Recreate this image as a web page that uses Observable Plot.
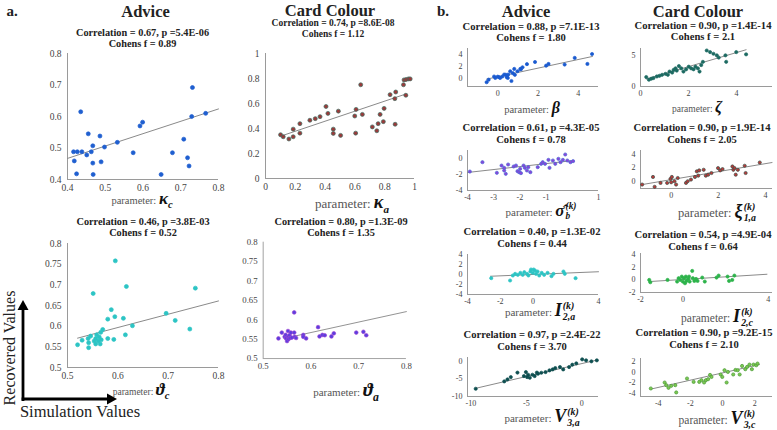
<!DOCTYPE html>
<html>
<head>
<meta charset="utf-8">
<script src="https://cdn.jsdelivr.net/npm/d3@7"></script>
<script src="https://cdn.jsdelivr.net/npm/@observablehq/plot@0.6"></script>
<style>
  body { margin: 0; background: #fff; }
  #root { position: relative; width: 777px; height: 430px; overflow: hidden; background: #fff; font-family: "Liberation Serif", "DejaVu Serif", serif; color: #222; }
  .t { position: absolute; white-space: nowrap; transform: translate(-50%, -50%); line-height: 1; }
  .pw { color: #555; }
  .sym { font-weight: bold; font-style: italic; color: #111; }
  .ss { display: inline-flex; flex-direction: column; vertical-align: middle; font-size: 0.55em; line-height: 1.05; margin-left: 1px; }
  .pan { position: absolute; }
</style>
</head>
<body>
<div id="root"></div>
<script>
// ---------------- DATA ----------------
const adviceKappaC = [[0.416,0.488],[0.418,0.459],[0.426,0.488],[0.424,0.418],[0.438,0.488],[0.435,0.615],[0.455,0.545],[0.451,0.478],[0.463,0.488],[0.467,0.507],[0.467,0.452],[0.468,0.416],[0.486,0.538],[0.489,0.456],[0.498,0.503],[0.532,0.518],[0.574,0.485],[0.592,0.570],[0.599,0.582],[0.648,0.416],[0.678,0.485],[0.708,0.528],[0.718,0.469],[0.722,0.443],[0.731,0.692],[0.729,0.600],[0.766,0.610]];
const cardKappaA = [[0.101,0.35],[0.119,0.334],[0.157,0.316],[0.186,0.395],[0.186,0.334],[0.231,0.439],[0.231,0.363],[0.298,0.466],[0.334,0.479],[0.366,0.495],[0.406,0.576],[0.419,0.521],[0.455,0.395],[0.455,0.361],[0.489,0.539],[0.504,0.345],[0.599,0.5],[0.608,0.553],[0.605,0.363],[0.639,0.75],[0.65,0.513],[0.717,0.413],[0.747,0.382],[0.756,0.439],[0.769,0.513],[0.791,0.455],[0.796,0.561],[0.836,0.671],[0.868,0.639],[0.874,0.692],[0.87,0.434],[0.926,0.75],[0.93,0.789],[0.942,0.666],[0.944,0.792],[0.96,0.797],[0.971,0.797]];
const adviceThetaC = [[0.52,0.555],[0.529,0.566],[0.541,0.57],[0.542,0.56],[0.542,0.548],[0.546,0.576],[0.551,0.679],[0.553,0.564],[0.556,0.57],[0.558,0.579],[0.556,0.557],[0.561,0.564],[0.563,0.574],[0.565,0.557],[0.566,0.585],[0.57,0.592],[0.567,0.567],[0.58,0.617],[0.58,0.57],[0.587,0.64],[0.592,0.568],[0.594,0.623],[0.595,0.758],[0.611,0.619],[0.615,0.579],[0.617,0.696],[0.629,0.601],[0.696,0.631],[0.714,0.614],[0.743,0.593],[0.754,0.692]];
const cardThetaA = [[0.532,0.552],[0.539,0.567],[0.545,0.556],[0.547,0.561],[0.548,0.552],[0.55,0.545],[0.552,0.556],[0.552,0.571],[0.553,0.55],[0.555,0.56],[0.556,0.553],[0.558,0.567],[0.56,0.554],[0.565,0.567],[0.565,0.619],[0.566,0.556],[0.569,0.553],[0.584,0.561],[0.584,0.556],[0.59,0.552],[0.615,0.581],[0.618,0.557],[0.624,0.561],[0.629,0.56],[0.643,0.557],[0.648,0.565],[0.695,0.567],[0.71,0.569],[0.716,0.56]];
const adviceBeta = [[-0.55,-0.6],[-0.45,-0.18],[-0.18,0.33],[-0.12,0.1],[0.0,0.3],[0.07,0.22],[0.12,0.1],[0.23,0.33],[0.32,0.65],[0.4,0.62],[0.45,0.22],[0.5,0.1],[0.52,0.65],[0.62,1.19],[0.68,-0.4],[0.75,0.87],[0.82,1.57],[0.85,0.6],[0.98,1.19],[1.12,1.57],[1.15,1.5],[1.23,1.84],[1.45,2.35],[1.85,2.7],[2.4,2.1],[2.52,2.38],[3.32,2.28],[3.82,3.37],[4.45,2.38],[4.68,4.0]];
const adviceSigmaB = [[-3.91,-1.63],[-3.43,-0.46],[-2.88,-1.79],[-2.7,-0.88],[-2.6,-1.5],[-2.54,-1.92],[-2.6,-1.17],[-2.45,-0.75],[-2.24,-1.0],[-2.15,-0.88],[-2.09,-1.58],[-2.03,-1.71],[-1.99,-1.29],[-1.96,-1.83],[-1.86,-0.88],[-1.81,-1.17],[-1.73,-1.5],[-1.68,-1.08],[-1.6,-1.71],[-1.32,-1.08],[-1.19,-0.67],[-1.13,-0.46],[-1.04,-0.67],[-0.91,-0.17],[-0.87,-1.17],[-0.74,-0.25],[-0.65,-0.67],[-0.53,-0.04],[-0.45,-0.46],[-0.36,-0.17],[-0.27,0.5],[-0.19,-0.25],[-0.07,-0.46],[0.03,-0.33]];
const adviceI2a = [[-2.55,-0.73],[-1.4,-1.2],[-1.23,-0.2],[-1.09,0.13],[-0.93,-0.07],[-0.77,0.33],[-0.63,-0.07],[-0.53,0.47],[-0.36,0.13],[-0.28,-0.2],[-0.16,0.6],[-0.12,1.0],[-0.02,0.33],[0.04,1.0],[0.12,0.8],[0.18,0.13],[0.28,0.6],[0.38,-0.2],[0.53,0.33],[0.68,-0.07],[0.89,0.33],[1.13,-0.33],[1.25,0.13],[1.86,0.6],[1.94,0.13],[2.6,-0.73]];
const adviceV3a = [[-9.56,-7.8],[-6.99,-5.7],[-6.7,-5.14],[-6.4,-4.48],[-5.8,-3.2],[-5.22,-4.19],[-5.04,-3.05],[-4.93,-4.48],[-4.84,-3.81],[-4.69,-4.67],[-4.45,-3.81],[-4.25,-4.19],[-4.05,-3.2],[-3.95,-3.52],[-3.65,-3.24],[-3.27,-3.05],[-2.92,-2.57],[-2.63,-2.29],[-2.39,-1.9],[-1.97,-1.62],[-1.68,-2.29],[-1.15,-1.62],[-0.86,-0.95],[-0.5,-0.57],[0.03,0.57],[0.38,0.29],[0.86,0.0],[1.35,0.29]];
const cardZeta = [[0.24,1.52],[0.35,1.09],[0.45,1.25],[0.54,1.36],[0.68,1.61],[0.79,1.72],[0.9,1.88],[1.04,2.03],[1.14,1.88],[1.21,2.4],[1.32,2.24],[1.38,2.66],[1.46,2.92],[1.51,2.55],[1.6,3.28],[1.7,2.92],[1.79,2.4],[1.9,2.76],[2.01,3.18],[2.11,2.92],[2.21,2.76],[2.29,3.18],[2.39,2.92],[2.46,2.4],[2.53,3.44],[2.6,3.96],[2.76,5.78],[2.9,5.52],[3.04,5.26],[3.18,5.0],[3.26,4.64],[3.54,5.0],[3.57,3.96],[3.99,5.52],[4.4,5.16]];
const cardXi1a = [[-1.23,-0.43],[-0.77,0.67],[-0.7,-0.76],[-0.45,-0.19],[-0.17,-0.19],[-0.03,0.38],[0,-0.1],[0.03,0.67],[0.14,0.05],[0.21,-0.43],[0.28,0.52],[0.63,-0.19],[0.7,0.05],[0.84,0.29],[1.01,0.67],[1.09,1.48],[1.15,0.86],[1.19,1.62],[1.38,1.71],[1.47,0.86],[1.57,1.0],[1.71,1.24],[1.99,1.95],[2.08,1.62],[2.18,1.81],[2.6,2.19],[2.64,1.71],[2.69,1.95],[2.74,1.0],[2.83,1.71],[3.12,2.29],[3.16,1.24],[3.76,2.76]];
const cardI2c = [[-1.59,0],[-1.54,-0.37],[-0.73,0],[-0.28,-0.26],[-0.21,0.27],[-0.13,0],[-0.06,0.53],[-0.01,-0.26],[0.04,0.27],[0.09,-0.53],[0.13,0.53],[0.16,-0.16],[0.24,0.16],[0.28,0.53],[0.31,-0.26],[0.43,1.43],[0.46,0.27],[0.53,-0.16],[0.61,0.16],[0.68,-0.16],[0.9,0.37],[1.02,-0.26],[1.57,0.37],[1.67,0.69],[2.09,0.53],[2.16,-0.16],[2.31,0],[2.41,0.69]];
const cardV3c = [[-4.46,-3.08],[-3.6,-1.95],[-3.5,-2.45],[-3.36,-2.96],[-3.19,-2.58],[-2.94,-2.45],[-2.88,-3.83],[-2.21,-1.19],[-1.8,-1.83],[-1.45,-1.83],[-1.31,-1.51],[-1.15,-1.95],[-1.04,-1.51],[-0.9,-1.32],[-0.78,-0.51],[-0.69,-0.89],[-0.12,-0.43],[-0.02,-0.89],[0.12,0.38],[0.25,-1.95],[0.33,0.06],[0.66,-0.43],[0.8,0.43],[0.94,0.38],[1.06,-0.43],[1.21,1.19],[1.41,0.57],[1.52,1.0],[1.67,1.45],[1.82,0.57],[1.92,1.45],[2.09,1.32],[2.17,1.64]];

// least-squares lines (endpoints in data units)
const fitLines = [
  [[0.4,0.467],[0.8,0.624]],
  [[0.1,0.338],[0.94,0.675]],
  [[0.52,0.571],[0.8,0.661]],
  [[0.548,0.553],[0.8,0.621]],
  [[-0.55,-0.1],[4.7,3.6]],
  [[-4,-1.75],[0.05,-0.25]],
  [[-2.6,-0.35],[4,0.55]],
  [[-9.6,-7.7],[1.4,0.4]],
  [[0.24,1.2],[4.4,5.9]],
  [[-1.23,-0.43],[4.28,2.76]],
  [[-1.59,-0.26],[3.94,0.9]],
  [[-4.46,-3.2],[2.29,1.45]]
];

const correlationTitles = [
  "Correlation = 0.67, p =5.4E-06", "Correlation = 0.74, p =8.6E-08",
  "Correlation = 0.46, p =3.8E-03", "Correlation = 0.80, p =1.3E-09",
  "Correlation = 0.88, p =7.1E-13", "Correlation = 0.61, p =4.3E-05",
  "Correlation = 0.40, p =1.3E-02", "Correlation = 0.97, p =2.4E-22",
  "Correlation = 0.90, p =1.4E-14", "Correlation = 0.90, p =1.9E-14",
  "Correlation = 0.54, p =4.9E-04", "Correlation = 0.90, p =9.2E-15"
];
const cohensTitles = [
  "Cohens f = 0.89", "Cohens f = 1.12", "Cohens f = 0.52", "Cohens f = 1.35",
  "Cohens f = 1.80", "Cohens f = 0.78", "Cohens f = 0.44", "Cohens f = 3.70",
  "Cohens f = 2.1", "Cohens f = 2.05", "Cohens f = 0.64", "Cohens f = 2.10"
];
// parameter symbols: [symbol, subscript, superscript]
const paramSymbols = [
  ["κ","c",""], ["κ","a",""], ["ϑ","c",""], ["ϑ","a",""],
  ["β","",""], ["σ\u0302","b","(k)"], ["I","2,a","(k)"], ["V","3,a","(k)"],
  ["ζ","",""], ["ξ","1,a","(k)"], ["I","2,c","(k)"], ["V","3,c","(k)"]
];
const xDomains = [[0.4,0.8],[0,1],[0.5,0.8],[0.5,0.8],[-1.5,5],[-4,1],[-4,4],[-10.3,1.5],[0,5.5],[-1.3,4.3],[-2,4.2],[-5.1,3.1]];
const yDomains = [[0.4,0.8],[0,1],[0.5,0.8],[0.5,0.8],[-1.3,4.9],[-4,1],[-4,4],[-10,1.1],[0,6.1],[-1,4.5],[-2,4.2],[-4.6,2.6]];
const xTickValues = [[0.4,0.5,0.6,0.7,0.8],[0,0.2,0.4,0.6,0.8,1],[0.5,0.6,0.7,0.8],[0.5,0.6,0.7,0.8],[0,2,4],[-4,-3,-2,-1,1],[-4,-2,0,4],[-10,-5,0],[0,2,4],[0,2,4],[-2,0,4],[-4,-2,0,2]];
const yTickValues = [[0.4,0.5,0.6,0.7,0.8],[0,0.2,0.4,0.6,0.8,1],[0.5,0.55,0.6,0.65,0.7,0.75,0.8],[0.5,0.55,0.6,0.65,0.7,0.75,0.8],[0,2,4],[-4,-2,0],[-4,-2,0,2,4],[-10,-5,0],[0,5],[0,2,4],[-2,0,2,4],[-4,-2,0,2]];
const headers = ["a.", "Advice", "Card Colour", "b.", "Advice", "Card Colour"];
const axisWords = ["Recovered Values", "Simulation Values"];

const seriesList = [adviceKappaC, cardKappaA, adviceThetaC, cardThetaA, adviceBeta, adviceSigmaB, adviceI2a, adviceV3a, cardZeta, cardXi1a, cardI2c, cardV3c];

// ---------------- LAYOUT / STYLE ----------------
// frame: [left, top, right, bottom] page px
const panelStyle = [
  {frame:[67,53,218,179], fill:"#1f5fd0", stroke:"#1f5fd0", r:2, tickFs:9.5, tx:142.5, ty:[33,43.5], tfs:10.3, lx:142, ly:200, pfs:10.5, sfs:17},
  {frame:[265,53,414,178], fill:"#9a3a3a", stroke:"#3f6f63", r:2, tickFs:9.5, tx:333, ty:[24,35], tfs:9.5, lx:352, ly:204, pfs:13, sfs:18},
  {frame:[67,243,218,367], fill:"#2cc4c4", stroke:"#2cc4c4", r:2, tickFs:9.5, tx:143, ty:[222,233], tfs:10.3, lx:141, ly:391, pfs:9.5, sfs:17},
  {frame:[265,242,420,368], fill:"#5a3fe0", stroke:"#a043d0", r:2, tickFs:9.5, tx:341, ty:[222,233], tfs:10.3, lx:346, ly:392, pfs:11, sfs:19, clip:417},
  {frame:[467,48,598,86], fill:"#1a5ad0", stroke:"#1a5ad0", r:1.6, tickFs:8, tx:531, ty:[27,38], tfs:10.6, lx:532, ly:108, pfs:10.5, sfs:16},
  {frame:[467,150,598,190], fill:"#8a45d8", stroke:"#4a6ad8", r:1.6, tickFs:8, tx:531, ty:[128,140], tfs:10.6, lx:541, ly:212, pfs:11, sfs:17},
  {frame:[467,254,598,294], fill:"#2cc4c4", stroke:"#2cc4c4", r:1.6, tickFs:8, tx:532, ty:[232,244], tfs:10.6, lx:540, ly:312, pfs:11, sfs:18},
  {frame:[467,357,598,396], fill:"#0e4f50", stroke:"#0e4f50", r:1.6, tickFs:8, tx:532, ty:[335,347], tfs:10.6, lx:542, ly:418, pfs:11, sfs:18},
  {frame:[640,48,772,86], fill:"#1c6a62", stroke:"#1c6a62", r:1.6, tickFs:8, tx:703, ty:[26,37], tfs:10.6, lx:697, ly:107, pfs:9.5, sfs:16},
  {frame:[640,150,772,188], fill:"#b83a3a", stroke:"#3a5048", r:1.6, tickFs:8, tx:702, ty:[128,140], tfs:10.6, lx:717, ly:213, pfs:12.5, sfs:18},
  {frame:[640,253,772,292], fill:"#2db34a", stroke:"#2db34a", r:1.6, tickFs:8, tx:703, ty:[235,247], tfs:10.6, lx:717, ly:318, pfs:11.5, sfs:18},
  {frame:[640,358,772,396], fill:"#7cc850", stroke:"#4a9a3a", r:1.6, tickFs:8, tx:704, ty:[333,345], tfs:10.6, lx:717, ly:420, pfs:11.5, sfs:18}
];

const root = document.getElementById("root");
function addText(html, x, y, css) {
  const d = document.createElement("div");
  d.className = "t";
  d.innerHTML = html;
  d.style.left = x + "px";
  d.style.top = y + "px";
  Object.assign(d.style, css || {});
  root.appendChild(d);
  return d;
}

// headers
addText(headers[0], 12, 11, {fontWeight:"bold", fontSize:"15px"});
addText(headers[1], 145.5, 12, {fontWeight:"bold", fontSize:"16.5px"});
addText(headers[2], 330, 11, {fontWeight:"bold", fontSize:"16.5px"});
addText(headers[3], 443, 11, {fontWeight:"bold", fontSize:"15px"});
addText(headers[4], 526, 12, {fontWeight:"bold", fontSize:"16.5px"});
addText(headers[5], 698, 12, {fontWeight:"bold", fontSize:"16.5px"});

const fmt = d => String(d);
seriesList.forEach((pts, i) => {
  const s = panelStyle[i];
  const [L, T, R, B] = s.frame;
  const mL = 30, mR = 12, mT = 4, mB = 16;
  const w = R - L + mL + mR, h = B - T + mT + mB;
  const xd = xDomains[i], yd = yDomains[i];
  const chart = Plot.plot({
    width: w, height: h,
    marginLeft: mL, marginRight: mR, marginTop: mT, marginBottom: mB,
    style: {fontFamily: "'Liberation Serif', serif", fontSize: s.tickFs + "px", color: "#444", background: "transparent", overflow: "visible"},
    x: {domain: xd},
    y: {domain: yd},
    marks: [
      Plot.axisX({ticks: xTickValues[i], tickSize: 0, tickPadding: s.tickFs > 9 ? 5 : 4, tickFormat: fmt, label: null}),
      Plot.axisY({ticks: yTickValues[i], tickSize: 0, tickPadding: s.tickFs > 9 ? 6 : 5, tickFormat: fmt, label: null}),
      Plot.ruleY([yd[0]], {stroke: "#9a9a9a", strokeWidth: 1}),
      Plot.ruleX([xd[0]], {stroke: "#9a9a9a", strokeWidth: 1}),
      Plot.line(fitLines[i], {x: d => d[0], y: d => d[1], stroke: "#8a8a8a", strokeWidth: 1}),
      Plot.dot(pts, {x: d => d[0], y: d => d[1], r: s.r, fill: s.fill, stroke: s.stroke, strokeWidth: 0.7})
    ]
  });
  const wrap = document.createElement("div");
  wrap.className = "pan";
  wrap.style.left = (L - mL) + "px";
  wrap.style.top = (T - mT) + "px";
  wrap.style.width = (s.clip ? (s.clip - (L - mL)) : w) + "px";
  wrap.style.height = h + "px";
  if (s.clip) wrap.style.overflow = "hidden";
  wrap.appendChild(chart);
  root.appendChild(wrap);

  addText(correlationTitles[i], s.tx, s.ty[0], {fontWeight:"bold", fontSize: s.tfs + "px"});
  addText(cohensTitles[i], s.tx, s.ty[1], {fontWeight:"bold", fontSize: s.tfs + "px"});

  const [sym, sub, sup] = paramSymbols[i];
  let symHtml = `<span class="sym" style="font-size:${s.sfs}px">${sym}`;
  if (sup) symHtml += `<span class="ss"><span>${sup}</span><span>${sub}</span></span>`;
  else if (sub) symHtml += `<sub style="font-size:0.62em">${sub}</sub>`;
  symHtml += `</span>`;
  addText(`<span class="pw" style="font-size:${s.pfs}px">parameter: </span>${symHtml}`, s.lx, s.ly);
});

// corner axis words and arrows (decoration)
addText(axisWords[0], 10, 348, {fontSize:"16px", transform:"translate(-50%,-50%) rotate(-90deg)", color:"#222"});
addText(axisWords[1], 80, 412, {fontSize:"16.5px", color:"#222"});
const ns = "http://www.w3.org/2000/svg";
const deco = document.createElementNS(ns, "svg");
deco.setAttribute("width", 777); deco.setAttribute("height", 430);
deco.style.position = "absolute"; deco.style.left = "0"; deco.style.top = "0"; deco.style.pointerEvents = "none";
deco.innerHTML = `
  <path d="M23 401 V309" stroke="#000" stroke-width="2.8" fill="none"/>
  <path d="M17.5 310 L23 300 L28.5 310 Z" fill="#000"/>
  <path d="M21.6 399 H108" stroke="#000" stroke-width="2.8" fill="none"/>
  <path d="M107 393.5 L117 399 L107 404.5 Z" fill="#000"/>`;
root.appendChild(deco);
</script>
</body>
</html>
